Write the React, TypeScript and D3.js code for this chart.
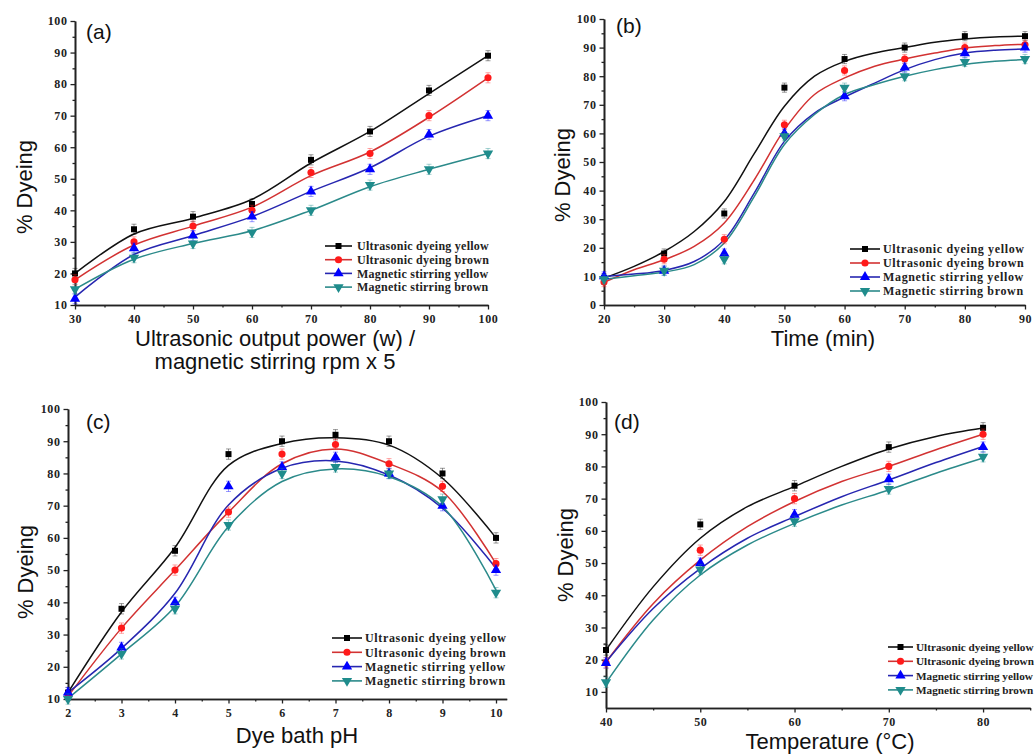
import * as React from 'react';
import * as d3 from 'd3';

const SERIF = '"Liberation Serif","Times New Roman",serif';
const SANS = '"Liberation Sans",Arial,sans-serif';

const seriesNames = [
  'Ultrasonic dyeing yellow',
  'Ultrasonic dyeing brown',
  'Magnetic stirring yellow',
  'Magnetic stirring brown',
];
const lineColors = ['#111111', '#d23232', '#2626b0', '#2b8a8a'];
const markerColors = ['#000000', '#ff1a1a', '#0000ff', '#1f8c8c'];

// (a) output power
const powerX = [30, 40, 50, 60, 70, 80, 90, 100];
const powerPoints = [
  [20, 34, 38, 42, 56, 65, 78, 89],
  [18, 30, 35, 40, 52, 58, 70, 82],
  [12, 28, 32, 38, 46, 53, 64, 70],
  [15, 25, 29.5, 33, 40, 48, 53, 58],
];
const powerFit = [
  [20, 32.5, 37.5, 43.5, 55, 65, 77, 89],
  [18, 29, 35, 41, 51, 58.5, 69.5, 82],
  [12.5, 26, 32, 38, 46, 53.5, 63.5, 70],
  [15, 24.5, 29.5, 33.5, 40, 47.5, 53, 58],
];

// (b) time
const timeX = [20, 30, 40, 50, 60, 70, 80, 90];
const timePoints = [
  [9.4, 18, 32, 76, 86, 90, 94, 94],
  [8, 16, 23, 63, 82, 86, 90, 91],
  [10, 12, 18, 60, 73, 83, 88, 90],
  [9, 12, 16, 59, 76, 80, 85, 86],
];
const timeFitX = [20, 25, 30, 35, 40, 45, 50, 55, 60, 65, 70, 75, 80, 85, 90];
const timeFit = [
  [9.4, 13.5, 18.7, 25.7, 36.2, 53, 69.5, 80, 85.2, 88.1, 90, 91.9, 93, 93.7, 94],
  [7.9, 12.3, 15.8, 20.5, 28.7, 43.8, 61.3, 73.6, 79.4, 83.5, 86, 88.1, 89.9, 90.7, 91.2],
  [10, 10.8, 12.1, 15.2, 22.8, 39.2, 57.2, 67.1, 72.7, 77.6, 82.3, 85.8, 88.1, 89.1, 89.5],
  [9, 10.2, 11.5, 14.1, 21.7, 38, 56.1, 66.6, 73.6, 77.1, 80, 82.3, 84.1, 85.2, 85.8],
];

// (c) pH
const phX = [2, 3, 4, 5, 6, 7, 8, 9, 10];
const phPoints = [
  [12, 38, 56, 86, 90, 92, 90, 80, 60],
  [11, 32, 50, 68, 86, 89, 83, 76, 52],
  [12, 26, 40, 76, 82, 85, 80, 70, 50],
  [10, 24, 38, 64, 80, 82, 80, 72, 43],
];
const phFit = [
  [12, 37, 57, 82.5, 89.3, 91.1, 88.8, 78.5, 60],
  [10.8, 32, 50, 68, 83, 87.6, 83, 74.4, 52],
  [12, 25.7, 42.8, 70.2, 81.6, 83.9, 79.5, 69.2, 50.6],
  [10.2, 24, 38.7, 63.5, 77.5, 81.4, 79, 69.7, 43.8],
];

// (d) temperature
const tempX = [40, 50, 60, 70, 80];
const tempPoints = [
  [23, 62, 74, 86, 92],
  [19, 54, 70, 80, 90],
  [19, 50, 65, 76, 86],
  [13, 48, 63, 73, 83],
];
const tempFitX = [40, 45, 50, 55, 60, 65, 70, 75, 80];
const tempFit = [
  [23, 42.6, 57.7, 67.5, 73.8, 80, 85.4, 89.3, 91.9],
  [19.3, 37.4, 50.9, 61.3, 69.1, 75.3, 80, 85.2, 90],
  [19.3, 35.9, 48.3, 57.7, 64.4, 70.6, 75.8, 81.2, 86.2],
  [12.8, 32.3, 46.3, 55.6, 62.3, 68, 72.7, 77.9, 82.6],
];

const errorBar = 1.6;

const panels = [
  {
    label: '(a)', labelPos: [86, 39],
    xs: powerX, points: powerPoints, fitX: powerX, fit: powerFit,
    xDomain: [30, 100], xRange: [75, 488], yDomain: [10, 100], yRange: [305, 21],
    xMajor: d3.range(30, 101, 10), xMinor: d3.range(35, 100, 10),
    yMajor: d3.range(10, 101, 10), yMinor: d3.range(15, 100, 10),
    xTitle: ['Ultrasonic output power (w) /', 'magnetic stirring rpm x 5'], xTitlePos: [275, 346],
    yTitlePos: [32, 187],
    legend: { x1: 325, x2: 352, tx: 357, y0: 246, dy: 13.7, spacing: 0.25, size: 12 },
  },
  {
    label: '(b)', labelPos: [616, 33],
    xs: timeX, points: timePoints, fitX: timeFitX, fit: timeFit,
    xDomain: [20, 90], xRange: [604, 1025], yDomain: [0, 100], yRange: [305, 19],
    xMajor: d3.range(20, 91, 10), xMinor: d3.range(25, 90, 10),
    yMajor: d3.range(0, 101, 10), yMinor: d3.range(5, 100, 10),
    xTitle: ['Time (min)'], xTitlePos: [823, 346],
    yTitlePos: [570, 175],
    legend: { x1: 850, x2: 880, tx: 883, y0: 249, dy: 14, spacing: 0.65, size: 12 },
  },
  {
    label: '(c)', labelPos: [86, 429],
    xs: phX, points: phPoints, fitX: phX, fit: phFit,
    xDomain: [2, 10.2], xRange: [68, 506.7], yDomain: [10, 100], yRange: [699, 409],
    xMajor: d3.range(2, 11, 1), xMinor: d3.range(2.5, 10.1, 1),
    yMajor: d3.range(10, 101, 10), yMinor: d3.range(15, 100, 10),
    xTitle: ['Dye bath pH'], xTitlePos: [297, 743],
    yTitlePos: [33, 572],
    legend: { x1: 332, x2: 362, tx: 365, y0: 638, dy: 14.3, spacing: 0.65, size: 12 },
  },
  {
    label: '(d)', labelPos: [614, 429],
    xs: tempX, points: tempPoints, fitX: tempFitX, fit: tempFit,
    xDomain: [40, 85], xRange: [606, 1030.2], yDomain: [5, 100], yRange: [708, 402],
    xMajor: d3.range(40, 81, 10), xMinor: d3.range(45, 86, 10),
    yMajor: d3.range(10, 101, 10), yMinor: d3.range(15, 100, 10),
    xTitle: ['Temperature (°C)'], xTitlePos: [830, 749],
    yTitlePos: [573, 555],
    legend: { x1: 888, x2: 913, tx: 916, y0: 647, dy: 14.3, spacing: 0, size: 11.2 },
  },
];

function symbolFor(i) {
  const types = [d3.symbolSquare, d3.symbolCircle, d3.symbolTriangle, d3.symbolTriangle];
  const sizes = [36, 40, 46, 46];
  return d3.symbol().type(types[i]).size(sizes[i])();
}

function drawMarker(g, i, cx, cy) {
  g.append('path')
    .attr('d', symbolFor(i))
    .attr('transform', `translate(${cx},${cy})` + (i === 3 ? ' rotate(180)' : ''))
    .attr('fill', markerColors[i]);
}

function styleAxis(axisG) {
  axisG.select('.domain').attr('stroke', '#222').attr('stroke-width', 1.6);
  axisG.selectAll('.tick line').attr('stroke', '#222').attr('stroke-width', 1.3);
  axisG.selectAll('text')
    .attr('font-family', SERIF)
    .attr('font-weight', 'bold')
    .attr('font-size', 12)
    .attr('letter-spacing', 0.6)
    .attr('fill', '#222');
}

function drawPanel(svg, p) {
  const g = svg.append('g');
  const x = d3.scaleLinear().domain(p.xDomain).range(p.xRange);
  const y = d3.scaleLinear().domain(p.yDomain).range(p.yRange);
  const x0 = x(p.xDomain[0]);
  const y0 = y(p.yDomain[0]);

  // minor ticks
  g.append('g').attr('transform', `translate(0,${y0})`)
    .call(d3.axisBottom(x).tickValues(p.xMinor).tickSize(2.5).tickSizeOuter(0).tickFormat(() => ''))
    .call(styleAxis);
  g.append('g').attr('transform', `translate(${x0},0)`)
    .call(d3.axisLeft(y).tickValues(p.yMinor).tickSize(2.5).tickSizeOuter(0).tickFormat(() => ''))
    .call(styleAxis);
  // major ticks
  g.append('g').attr('transform', `translate(0,${y0})`)
    .call(d3.axisBottom(x).tickValues(p.xMajor).tickSize(4.5).tickSizeOuter(0).tickPadding(5).tickFormat(d3.format('d')))
    .call(styleAxis);
  g.append('g').attr('transform', `translate(${x0},0)`)
    .call(d3.axisLeft(y).tickValues(p.yMajor).tickSize(4.5).tickSizeOuter(0).tickPadding(3).tickFormat(d3.format('d')))
    .call(styleAxis);

  // fitted curves
  const line = d3.line()
    .x((d) => x(d[0]))
    .y((d) => y(d[1]))
    .curve(d3.curveCatmullRom.alpha(0.5));
  p.fit.forEach((vals, i) => {
    g.append('path')
      .datum(p.fitX.map((xv, j) => [xv, vals[j]]))
      .attr('d', line)
      .attr('fill', 'none')
      .attr('stroke', lineColors[i])
      .attr('stroke-width', 1.5);
  });

  // error bars + markers
  p.points.forEach((vals, i) => {
    vals.forEach((v, j) => {
      const cx = x(p.xs[j]);
      const eb = g.append('g').attr('stroke', markerColors[i]).attr('stroke-opacity', 0.4).attr('stroke-width', 1);
      eb.append('line').attr('x1', cx).attr('x2', cx).attr('y1', y(v - errorBar)).attr('y2', y(v + errorBar));
      eb.append('line').attr('x1', cx - 2.5).attr('x2', cx + 2.5).attr('y1', y(v - errorBar)).attr('y2', y(v - errorBar));
      eb.append('line').attr('x1', cx - 2.5).attr('x2', cx + 2.5).attr('y1', y(v + errorBar)).attr('y2', y(v + errorBar));
      drawMarker(g, i, cx, y(v));
    });
  });

  // legend
  const L = p.legend;
  seriesNames.forEach((name, i) => {
    const ly = L.y0 + i * L.dy;
    g.append('line')
      .attr('x1', L.x1).attr('x2', L.x2).attr('y1', ly).attr('y2', ly)
      .attr('stroke', lineColors[i]).attr('stroke-width', 1.6);
    drawMarker(g, i, (L.x1 + L.x2) / 2, ly);
    g.append('text')
      .attr('x', L.tx).attr('y', ly).attr('dy', '0.35em')
      .attr('font-family', SERIF).attr('font-weight', 'bold').attr('font-size', L.size)
      .attr('letter-spacing', L.spacing)
      .attr('fill', '#222')
      .text(name);
  });

  // titles
  p.xTitle.forEach((t, k) => {
    g.append('text')
      .attr('x', p.xTitlePos[0]).attr('y', p.xTitlePos[1] + k * 23)
      .attr('text-anchor', 'middle')
      .attr('font-family', SANS).attr('font-size', 22).attr('fill', '#111')
      .text(t);
  });
  g.append('text')
    .attr('transform', `translate(${p.yTitlePos[0]},${p.yTitlePos[1]}) rotate(-90)`)
    .attr('text-anchor', 'middle')
    .attr('font-family', SANS).attr('font-size', 22).attr('fill', '#111')
    .text('% Dyeing');
  g.append('text')
    .attr('x', p.labelPos[0]).attr('y', p.labelPos[1])
    .attr('font-family', SANS).attr('font-size', 21).attr('fill', '#111')
    .text(p.label);
}

export default function App() {
  const ref = React.useRef(null);

  React.useEffect(() => {
    const svg = d3.select(ref.current);
    svg.selectAll('*').remove();
    panels.forEach((p) => drawPanel(svg, p));
  }, []);

  return (
    <div style={{ position: 'absolute', left: 0, top: 0 }}>
      <svg ref={ref} width={1035} height={756} style={{ display: 'block', background: '#fff' }} />
    </div>
  );
}
